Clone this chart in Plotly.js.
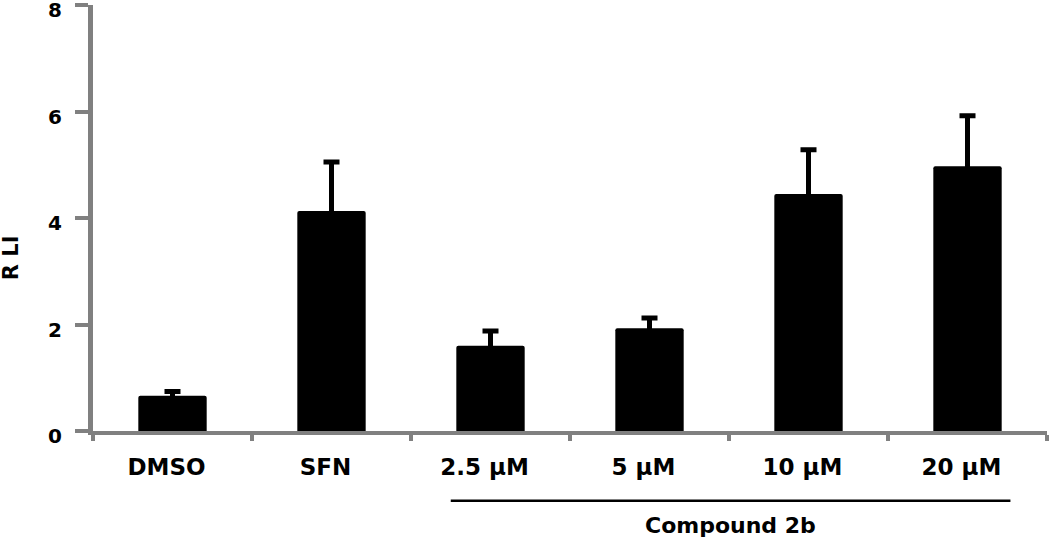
<!DOCTYPE html>
<html>
<head>
<meta charset="utf-8">
<script src="https://cdn.plot.ly/plotly-3.0.1.min.js"></script>
<style>
  html, body { margin: 0; padding: 0; background: #fff; }
  #chart { width: 1050px; height: 539px; }
</style>
</head>
<body>
<div id="chart"></div>
<script>
// values
const groups = ['DMSO', 'SFN', '2.5 µM', '5 µM', '10 µM', '20 µM'];
const rli = [0.66, 4.13, 1.60, 1.93, 4.45, 4.97];
const rliErr = [0.08, 0.92, 0.28, 0.19, 0.83, 0.95];
const yTicks = [0, 2, 4, 6, 8];

const axisGrey = '#808080';
const boldFont = 'DejaVu Sans, Arial, sans-serif';

const trace = {
    type: 'bar',
    x: groups,
    y: rli,
    marker: { color: '#000000', cornerradius: 2 },
    error_y: {
        type: 'data',
        symmetric: false,
        array: rliErr,
        // lower cap pushed inside the black bar so only the upper one shows
        arrayminus: rli.map(() => 0.08),
        color: '#000000',
        thickness: 5,
        width: 8
    },
    hoverinfo: 'skip'
};

const layout = {
    width: 1050,
    height: 539,
    margin: { l: 93, r: 3, t: 5, b: 108 },
    paper_bgcolor: '#ffffff',
    plot_bgcolor: '#ffffff',
    showlegend: false,
    bargap: 0.57,
    xaxis: {
        type: 'category',
        tickson: 'boundaries',
        ticks: 'outside',
        ticklen: 6,
        tickwidth: 4,
        tickcolor: axisGrey,
        showline: true,
        linecolor: axisGrey,
        linewidth: 4,
        showgrid: false,
        zeroline: false,
        ticklabelstandoff: 12,
        ticklabelshift: -6,
        tickfont: { family: boldFont, size: 23, color: '#000', weight: 'bold' }
    },
    yaxis: {
        range: [0, 8],
        tickvals: yTicks,
        ticks: 'outside',
        ticklen: 13,
        tickwidth: 4,
        tickcolor: axisGrey,
        showline: true,
        linecolor: axisGrey,
        linewidth: 5,
        showgrid: false,
        zeroline: false,
        ticklabelstandoff: 9,
        ticklabelshift: 5,
        ticklabeloverflow: 'allow',
        tickfont: { family: boldFont, size: 20, color: '#000', weight: 'bold' }
    },
    shapes: [{
        type: 'line',
        xref: 'x', yref: 'paper',
        x0: 1.75, x1: 5.27,
        y0: -0.164, y1: -0.164,
        line: { color: '#000000', width: 2.5 }
    }],
    annotations: [{
        text: 'Compound 2b',
        xref: 'x', yref: 'paper',
        x: 3.51, y: -0.221,
        xanchor: 'center', yanchor: 'middle',
        showarrow: false,
        font: { family: boldFont, size: 22, color: '#000', weight: 'bold' }
    }, {
        text: 'R LI',
        xref: 'paper', yref: 'paper',
        x: -0.086, y: 0.408,
        xanchor: 'center', yanchor: 'middle',
        textangle: -90,
        showarrow: false,
        font: { family: boldFont, size: 21, color: '#000', weight: 'bold' }
    }]
};

Plotly.newPlot('chart', [trace], layout, { displayModeBar: false, staticPlot: true });
</script>
</body>
</html>
